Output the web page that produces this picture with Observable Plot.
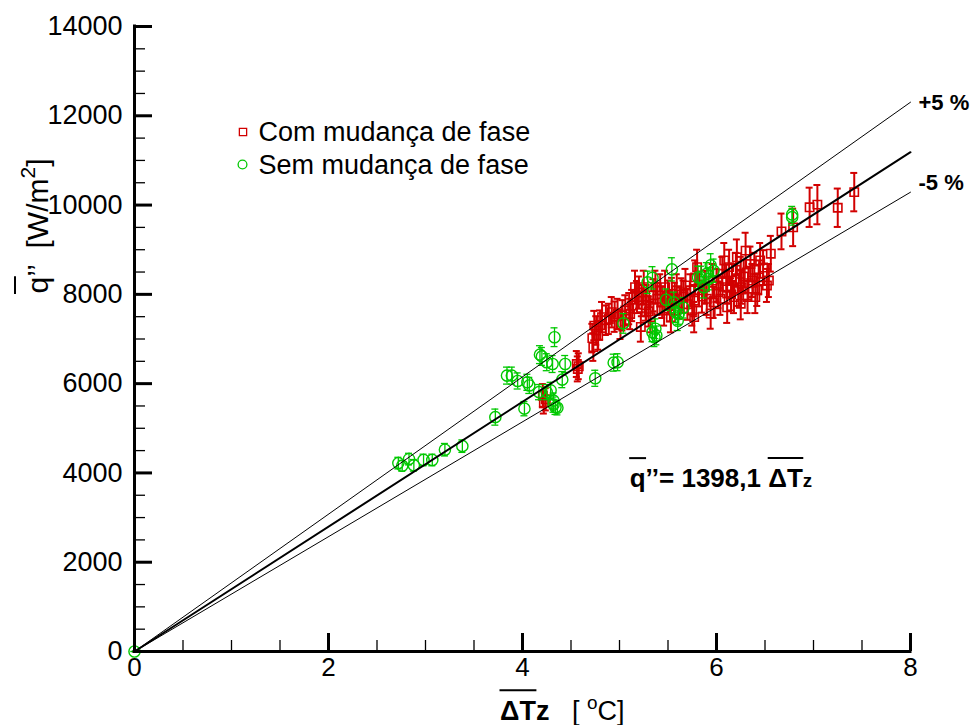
<!DOCTYPE html>
<html>
<head>
<meta charset="utf-8">
<script src="https://cdn.jsdelivr.net/npm/d3@7"></script>
<script src="https://cdn.jsdelivr.net/npm/@observablehq/plot@0.6"></script>
<style>
  html, body { margin: 0; padding: 0; background: #fff; }
  #chart { width: 973px; height: 725px; }
</style>
</head>
<body>
<div id="chart"></div>
<script>
// ---------- data ----------
// "Com mudança de fase" (red squares)
const redX = [
  4.21, 4.22, 4.24, 4.56, 4.57, 4.58, 4.72, 4.73, 4.74, 4.76,
  4.78, 4.80, 4.82, 4.86, 4.89, 4.92, 4.95, 4.98, 5.01, 5.03,
  5.06, 5.10, 5.11, 5.13, 5.16, 5.18, 5.20, 5.22, 5.23, 5.25,
  5.27, 5.28, 5.30, 5.32, 5.35, 5.37, 5.39, 5.42, 5.44, 5.46,
  5.47, 5.50, 5.52, 5.53, 5.54, 5.57, 5.59, 5.62, 5.64, 5.66,
  5.68, 5.70, 5.73, 5.75, 5.77, 5.77, 5.78, 5.80, 5.82, 5.85,
  5.88, 5.90, 5.94, 5.96, 5.97, 6.00, 6.02, 6.04, 6.06, 6.08,
  6.10, 6.11, 6.11, 6.13, 6.15, 6.16, 6.18, 6.20, 6.21, 6.23,
  6.25, 6.25, 6.26, 6.28, 6.30, 6.32, 6.33, 6.35, 6.37, 6.39,
  6.40, 6.42, 6.44, 6.45, 6.48, 6.52, 6.54, 6.56, 6.67, 6.79,
  6.96, 7.04, 7.25, 7.42
];
const redY = [
  5730, 5580, 5650, 6440, 6330, 6390, 7020, 6820, 7300, 7190,
  7080, 7310, 7490, 7420, 7450, 7600, 7500, 7560, 7330, 7530,
  7640, 7680, 7560, 7750, 8160, 7940, 8040, 7270, 7860, 8160,
  7760, 7860, 7620, 7490, 7980, 8160, 7900, 8090, 7820, 7640,
  8160, 7950, 7740, 7490, 8010, 7900, 8090, 7800, 8000, 7950,
  8200, 7780, 8090, 7640, 7860, 7490, 8380, 8610, 8090, 7950,
  8160, 7900, 7570, 8310, 7820, 8200, 8050, 7900, 8460, 8760,
  8300, 8160, 7710, 8610, 8000, 8310, 7940, 8550, 8830, 8100,
  8460, 7790, 8160, 8400, 8980, 7940, 8250, 8680, 8310, 8550,
  7940, 8100, 8380, 8760, 8600, 8200, 8310, 8910, 9410, 9500,
  9950, 10010, 9940, 10290
];
const redErr = [
  260, 250, 250, 290, 280, 290, 320, 310, 330, 320,
  320, 330, 340, 330, 340, 340, 340, 340, 330, 340,
  340, 350, 340, 350, 370, 360, 360, 330, 350, 370,
  350, 350, 340, 340, 360, 370, 360, 360, 350, 340,
  370, 360, 350, 340, 360, 360, 360, 350, 360, 360,
  370, 350, 360, 340, 350, 340, 380, 390, 360, 360,
  370, 360, 340, 370, 350, 370, 360, 360, 380, 390,
  370, 370, 350, 390, 360, 370, 360, 380, 400, 360,
  380, 350, 370, 380, 400, 360, 370, 390, 370, 380,
  360, 360, 380, 390, 390, 370, 370, 400, 400, 420,
  440, 440, 430, 430
];

// "Sem mudança de fase" (green circles)
const greenX = [
  0.00, 2.72, 2.76, 2.83, 2.88, 2.98, 3.07, 3.20, 3.38, 3.72,
  3.84, 3.89, 3.95, 4.02, 4.05, 4.07, 4.17, 4.18, 4.20, 4.25,
  4.25, 4.29, 4.31, 4.32, 4.32, 4.33, 4.34, 4.36, 4.41, 4.44,
  4.75, 4.94, 4.98, 5.04, 5.29, 5.34, 5.34, 5.36, 5.37, 5.38,
  5.48, 5.54, 5.56, 5.58, 5.60, 5.61, 5.66, 5.81, 5.84, 5.87,
  5.90, 5.92, 5.94, 5.97, 6.78, 6.78
];
const greenY = [
  0, 4220, 4160, 4310, 4170, 4290, 4290, 4520, 4600, 5250,
  6180, 6180, 6060, 5440, 6030, 5960, 5810, 6650, 6610, 6480,
  5810, 5850, 6440, 5620, 5530, 7040, 5470, 5460, 6090, 6440,
  6120, 6470, 6480, 7350, 8270, 8370, 7150, 7040, 7230, 7080,
  7880, 8560, 7820, 7600, 7410, 7560, 7700, 8380, 8380, 8160,
  8460, 8350, 8650, 8530, 9730, 9790
];
const greenErr = [
  0, 130, 120, 130, 130, 130, 130, 140, 140, 180,
  190, 190, 180, 160, 180, 180, 170, 200, 200, 190,
  170, 180, 190, 170, 170, 210, 160, 160, 180, 190,
  180, 190, 190, 220, 250, 250, 210, 210, 220, 210,
  240, 260, 230, 230, 220, 230, 230, 250, 250, 240,
  250, 250, 260, 260, 180, 180
];

// fitted line and band lines (slopes, W/m² per °C)
const fitSlope = 1398.1;
const upperSlope = 1538;
const lowerSlope = 1286;
const lineRangeX = [0, 8];

// legend / labels
const seriesNames = ["Com mudança de fase", "Sem mudança de fase"];
const bandLabels = ["+5 %", "-5 %"];

// axis ticks
const xMajorTicks = [0, 2, 4, 6, 8];
const xMinorTicks = [0.5, 1, 1.5, 2.5, 3, 3.5, 4.5, 5, 5.5, 6.5, 7, 7.5];
const yMajorTicks = [0, 2000, 4000, 6000, 8000, 10000, 12000, 14000];
const yMinorTicks = [500, 1000, 1500, 2500, 3000, 3500, 4500, 5000, 5500, 6500, 7000, 7500,
                     8500, 9000, 9500, 10500, 11000, 11500, 12500, 13000, 13500];

// ---------- build ----------
const FONT = "'Liberation Sans', Arial, Helvetica, sans-serif";
const RED = "#d20000";
const GREEN = "#00c800";

const red = redX.map((x, i) => ({x, y: redY[i], e: redErr[i]}));
const green = greenX.map((x, i) => ({x, y: greenY[i], e: greenErr[i]}));
const lineOf = s => lineRangeX.map(x => ({x, y: x * s}));

const W = 973, H = 725, mL = 134, mR = 63, mT = 26, mB = 74;
const frameW = W - mL - mR, frameH = H - mT - mB;

function errorMarks(data, color, width, cap) {
  return [
    Plot.ruleX(data, {x: "x", y1: d => d.y - d.e, y2: d => d.y + d.e, stroke: color, strokeWidth: width}),
    Plot.ruleY(data, {y: d => d.y + d.e, x1: "x", x2: "x", insetLeft: -cap, insetRight: -cap, stroke: color, strokeWidth: width}),
    Plot.ruleY(data, {y: d => d.y - d.e, x1: "x", x2: "x", insetLeft: -cap, insetRight: -cap, stroke: color, strokeWidth: width})
  ];
}

const fig = Plot.plot({
  width: W, height: H,
  marginLeft: mL, marginRight: mR, marginTop: mT, marginBottom: mB,
  style: {fontFamily: FONT, background: "#fff", color: "#000", overflow: "visible"},
  x: {domain: [0, 8]},
  y: {domain: [0, 14000]},
  marks: [
    // red series
    ...errorMarks(red, RED, 2, 3.5),
    Plot.dot(red, {x: "x", y: "y", symbol: "square", r: 4.7, stroke: RED, strokeWidth: 1.6, fill: "none"}),
    // green series
    ...errorMarks(green, GREEN, 1.3, 3.5),
    Plot.dot(green, {x: "x", y: "y", symbol: "circle", r: 5.6, stroke: GREEN, strokeWidth: 1.4, fill: "none"}),
    // lines
    Plot.line(lineOf(upperSlope), {x: "x", y: "y", stroke: "black", strokeWidth: 1}),
    Plot.line(lineOf(lowerSlope), {x: "x", y: "y", stroke: "black", strokeWidth: 1}),
    Plot.line(lineOf(fitSlope), {x: "x", y: "y", stroke: "black", strokeWidth: 2}),
    Plot.text([{x: lineRangeX[1], y: lineRangeX[1] * upperSlope, t: bandLabels[0]}],
      {x: "x", y: "y", text: "t", textAnchor: "start", dx: 8, dy: 1, fontWeight: "bold", fontSize: 22, fill: "black"}),
    Plot.text([{x: lineRangeX[1], y: lineRangeX[1] * lowerSlope, t: bandLabels[1]}],
      {x: "x", y: "y", text: "t", textAnchor: "start", dx: 8, dy: -9, fontWeight: "bold", fontSize: 22, fill: "black"}),
    // legend
    Plot.dot([seriesNames[0]], {frameAnchor: "top-left", dx: 108.5, dy: 105.5, symbol: "square", r: 4.1, stroke: RED, strokeWidth: 1.3, fill: "none"}),
    Plot.dot([seriesNames[1]], {frameAnchor: "top-left", dx: 108, dy: 138, symbol: "circle", r: 4.4, stroke: GREEN, strokeWidth: 1.3, fill: "none"}),
    Plot.text([seriesNames[0]], {frameAnchor: "top-left", dx: 124, dy: 95, textAnchor: "start", fontSize: 27, fill: "black"}),
    Plot.text([seriesNames[1]], {frameAnchor: "top-left", dx: 124, dy: 128, textAnchor: "start", fontSize: 27, fill: "black"}),
    // axis lines
    Plot.ruleX([0], {stroke: "black", strokeWidth: 3, strokeLinecap: "square"}),
    Plot.ruleY([0], {stroke: "black", strokeWidth: 3, strokeLinecap: "square"}),
    // inward ticks
    Plot.tickX(xMajorTicks, {x: d => d, insetTop: frameH - 18, stroke: "black", strokeWidth: 3}),
    Plot.tickX(xMinorTicks, {x: d => d, insetTop: frameH - 11, stroke: "black", strokeWidth: 1.3}),
    Plot.tickY(yMajorTicks, {y: d => d, insetRight: frameW - 18, stroke: "black", strokeWidth: 3}),
    Plot.tickY(yMinorTicks, {y: d => d, insetRight: frameW - 11, stroke: "black", strokeWidth: 1.3}),
    // tick labels
    Plot.axisX(xMajorTicks, {tickSize: 0, tickPadding: 6, tickFormat: d => String(d), fontSize: 26, label: null}),
    Plot.axisY(yMajorTicks, {tickSize: 0, tickPadding: 12, tickFormat: d => String(d), fontSize: 27, label: null})
  ]
});

document.getElementById("chart").append(fig);

// ---------- rich text (overlines, superscripts) ----------
const svg = d3.select(fig);
function richText({x, y, rotate = 0, anchor = "start", size, bold = false, parts}) {
  const g = svg.append("g").attr("transform", `translate(${x},${y}) rotate(${rotate})`);
  const text = g.append("text")
    .attr("text-anchor", anchor).attr("font-size", size).attr("font-family", FONT)
    .attr("fill", "black").attr("font-weight", bold ? "bold" : "normal")
    .style("white-space", "pre");
  let idx = 0, shift = 0;
  const overs = [];
  for (const p of parts) {
    const ts = text.append("tspan").text(p.t);
    if (p.bold) ts.attr("font-weight", "bold");
    if (p.scale) ts.attr("font-size", size * p.scale);
    const target = p.sup ? -size * 0.42 : 0;
    if (target !== shift) { ts.attr("dy", target - shift); shift = target; }
    if (p.over) overs.push([idx, idx + p.t.length - 1]);
    idx += p.t.length;
  }
  const node = text.node();
  for (const [a, b] of overs) {
    const ea = node.getExtentOfChar(a), eb = node.getExtentOfChar(b);
    g.append("line")
      .attr("x1", ea.x - 0.5).attr("x2", eb.x + eb.width + 0.5)
      .attr("y1", -size * 1.1).attr("y2", -size * 1.1)
      .attr("stroke", "black").attr("stroke-width", 2);
  }
}

const xs = fig.scale("x"), ys = fig.scale("y");

// equation annotation
richText({
  x: xs.apply(5.11), y: ys.apply(3680), size: 26, bold: true,
  parts: [{t: "q", over: true}, {t: "’’= 1398,1 "}, {t: "ΔT", over: true}, {t: "z", scale: 0.72}]
});

// x-axis title
richText({
  x: 500, y: 720, size: 27,
  parts: [{t: "ΔT", over: true, bold: true}, {t: "z", bold: true}, {t: "   [ "}, {t: "o", sup: true, scale: 0.7}, {t: "C]"}]
});

// y-axis title
richText({
  x: 48, y: 226, rotate: -90, anchor: "middle", size: 30,
  parts: [{t: "q", over: true}, {t: "’’  [W/m"}, {t: "2", sup: true, scale: 0.7}, {t: "]"}]
});
</script>
</body>
</html>
